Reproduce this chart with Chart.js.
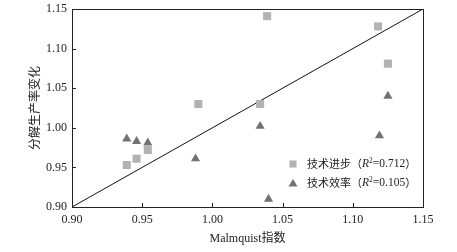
<!DOCTYPE html>
<html>
<head>
<meta charset="utf-8">
<script src="https://cdn.jsdelivr.net/npm/chart.js@4.4.1/dist/chart.umd.min.js"></script>
<style>
  html, body { margin: 0; padding: 0; background: #fff; }
  #wrap { width: 457px; height: 252px; position: relative; }
</style>
</head>
<body>
<div id="wrap"><canvas id="chart"></canvas></div>
<script>
// values
const techProgressX = [1.039, 1.118, 1.125, 0.990, 1.034, 0.939, 0.946, 0.954];
const techProgressY = [1.141, 1.128, 1.081, 1.030, 1.030, 0.953, 0.961, 0.972];
const techEffX = [1.125, 1.034, 0.939, 0.946, 0.954, 0.988, 1.119, 1.040];
const techEffY = [1.040, 1.002, 0.986, 0.983, 0.981, 0.961, 0.990, 0.910];
const diagLine = [0.90, 1.15];
const axisTicks = [0.90, 0.95, 1.00, 1.05, 1.10, 1.15];
const legendLabels = [
    { name: '技术进步', r2: '=0.712', color: '#b2b2b2', style: 'rect' },
    { name: '技术效率', r2: '=0.105', color: '#727272', style: 'triangle' }
];

const SERIF = "'Liberation Serif', 'Times New Roman', serif";
const CJK = "'Noto Sans CJK SC', sans-serif";

const toPoints = (xs, ys) => xs.map((x, i) => ({ x: x, y: ys[i] }));

// box around the plot, inward ticks, legend inside the plot
const framePlugin = {
    id: 'frame',
    afterDatasetsDraw(chart) {
        const ctx = chart.ctx;
        const a = chart.chartArea;
        const xs = chart.scales.x, ys = chart.scales.y;
        ctx.save();
        ctx.strokeStyle = '#222';
        ctx.lineWidth = 1;
        ctx.strokeRect(a.left + 0.5, a.top + 0.5, a.right - a.left, a.bottom - a.top);
        ctx.beginPath();
        axisTicks.slice(1, -1).forEach(v => {
            const px = Math.round(xs.getPixelForValue(v)) + 0.5;
            ctx.moveTo(px, a.bottom);
            ctx.lineTo(px, a.bottom - 4);
            const py = Math.round(ys.getPixelForValue(v)) + 0.5;
            ctx.moveTo(a.left, py);
            ctx.lineTo(a.left + 4, py);
        });
        ctx.stroke();

        // legend
        legendLabels.forEach((item, i) => {
            const cy = a.bottom - 43 + i * 19;
            const mx = a.right - 130;
            ctx.fillStyle = item.color;
            if (item.style === 'rect') {
                ctx.fillRect(mx - 3.5, cy - 3.5, 7, 7);
            } else {
                ctx.beginPath();
                ctx.moveTo(mx, cy - 4);
                ctx.lineTo(mx + 4.5, cy + 3.5);
                ctx.lineTo(mx - 4.5, cy + 3.5);
                ctx.closePath();
                ctx.fill();
            }
            ctx.fillStyle = '#222';
            ctx.textBaseline = 'middle';
            let tx = a.right - 116;
            const part = (text, font, dy) => {
                ctx.font = font;
                ctx.fillText(text, tx, cy + (dy || 0));
                tx += ctx.measureText(text).width;
            };
            part(item.name, '11px ' + CJK);
            part('（', '11px ' + CJK);
            part('R', 'italic 11.5px ' + SERIF);
            part('2', '7.5px ' + SERIF, -3);
            part(item.r2, '11.5px ' + SERIF);
            part('）', '11px ' + CJK);
        });
        ctx.restore();
    }
};

new Chart(document.getElementById('chart'), {
    type: 'scatter',
    data: {
        datasets: [
            {
                label: '技术进步',
                data: toPoints(techProgressX, techProgressY),
                pointStyle: 'rect',
                pointRadius: 5.7,
                pointHoverRadius: 5.7,
                backgroundColor: '#b2b2b2',
                borderWidth: 0
            },
            {
                label: '技术效率',
                data: toPoints(techEffX, techEffY),
                pointStyle: 'triangle',
                pointRadius: 5.3,
                pointHoverRadius: 5.3,
                backgroundColor: '#727272',
                borderWidth: 0
            },
            {
                label: 'y=x',
                data: toPoints(diagLine, diagLine),
                showLine: true,
                borderColor: '#111',
                borderWidth: 1,
                pointRadius: 0
            }
        ]
    },
    options: {
        responsive: true,
        maintainAspectRatio: false,
        animation: false,
        events: [],
        layout: { padding: { top: 9, right: 34, left: 0, bottom: 0 } },
        plugins: {
            legend: { display: false },
            tooltip: { enabled: false }
        },
        scales: {
            x: {
                type: 'linear',
                min: 0.90,
                max: 1.15,
                afterBuildTicks: s => { s.ticks = axisTicks.map(v => ({ value: v })); },
                afterFit: s => { s.height = 45; s.paddingLeft = 0; s.paddingRight = 0; },
                grid: { display: false, drawTicks: false },
                border: { display: false },
                ticks: {
                    padding: 6,
                    color: '#222',
                    font: { family: SERIF, size: 12 },
                    maxRotation: 0,
                    callback: v => v.toFixed(2)
                },
                title: {
                    display: true,
                    text: 'Malmquist指数',
                    color: '#222',
                    font: { family: SERIF + ", " + CJK, size: 12 },
                    padding: { top: 0, bottom: 6 }
                }
            },
            y: {
                type: 'linear',
                min: 0.90,
                max: 1.15,
                afterBuildTicks: s => { s.ticks = axisTicks.map(v => ({ value: v })); },
                afterFit: s => { s.width = 72; s.paddingTop = 0; s.paddingBottom = 0; },
                grid: { display: false, drawTicks: false },
                border: { display: false },
                ticks: {
                    padding: 5,
                    color: '#222',
                    font: { family: SERIF, size: 12 },
                    callback: v => v.toFixed(2)
                },
                title: {
                    display: true,
                    text: '分解生产率变化',
                    color: '#222',
                    font: { family: CJK, size: 12 },
                    padding: { top: 27, bottom: 0 }
                }
            }
        }
    },
    plugins: [framePlugin]
});
</script>
</body>
</html>
